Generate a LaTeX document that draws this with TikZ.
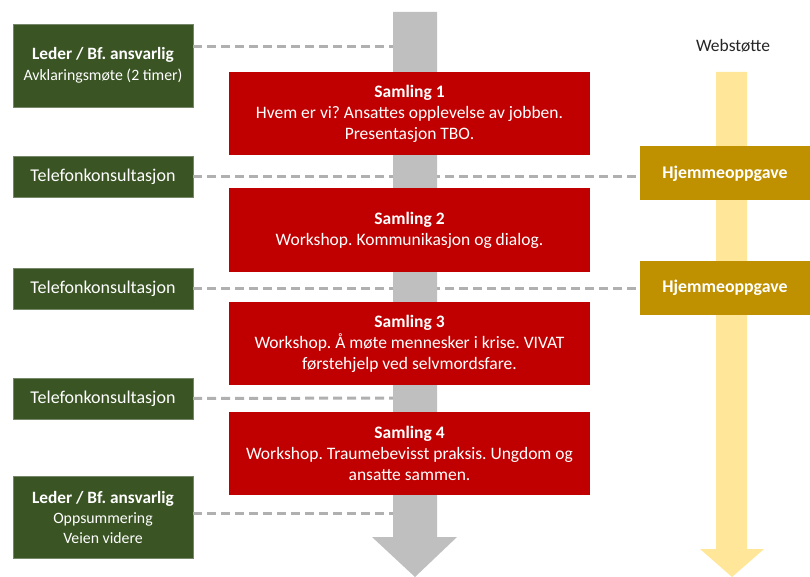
\documentclass[tikz,border=0pt]{standalone}
\usepackage{fontspec}
\setmainfont{Carlito}
\usepackage{tikz}
\usetikzlibrary{positioning}
\frenchspacing

\definecolor{leder}{HTML}{3A5424}
\definecolor{samling}{HTML}{C00000}
\definecolor{hjemme}{HTML}{BF9000}
\definecolor{web}{HTML}{FFE699}
\definecolor{tid}{HTML}{BFBFBF}
\definecolor{strek}{HTML}{B0B0B0}

\tikzset{
  lederbox/.style = {fill=leder, draw=leder!70!white, text=white, minimum width=180pt, align=center, inner sep=0pt},
  samlingbox/.style = {fill=samling, text=white, minimum width=361pt, minimum height=83pt, align=center, inner sep=0pt, font=\fontsize{17.5}{21}\selectfont},
  hjemmebox/.style = {fill=hjemme, text=white, minimum width=171pt, minimum height=54pt, inner sep=0pt, font=\fontsize{17.8}{21}\selectfont\bfseries},
  link/.style = {draw=strek, line width=3pt, dash pattern=on 9pt off 5pt}
}

\begin{document}
\begin{tikzpicture}[x=1pt, y=-1pt]
\useasboundingbox (0,0) rectangle (810,577);

% green side
\node[lederbox, minimum height=83pt, font=\fontsize{15.8}{21}\selectfont] (l_1) at (103,65.5)
  {{\fontsize{17.3}{21}\selectfont\bfseries Leder / Bf. ansvarlig}\\Avklaringsmøte (2 timer)};
\node[lederbox, minimum height=41pt, font=\fontsize{18}{21}\selectfont] (t_1) at (103,176.5) {Telefonkonsultasjon};
\node[lederbox, minimum height=41pt, font=\fontsize{18}{21}\selectfont] (t_2) at (103,288.5) {Telefonkonsultasjon};
\node[lederbox, minimum height=41pt, font=\fontsize{18}{21}\selectfont] (t_3) at (103,398.5) {Telefonkonsultasjon};
\node[lederbox, minimum height=82pt, font=\fontsize{15.8}{20}\selectfont] (l_2) at (103,517)
  {{\fontsize{17.3}{21}\selectfont\bfseries Leder / Bf. ansvarlig}\\Oppsummering\\Veien videre};

% yellow side
\node[hjemmebox] (h_1) at (725,173.5) {Hjemmeoppgave};
\node[hjemmebox] (h_2) at (725,288) {Hjemmeoppgave};
\node[font=\fontsize{17.5}{21}\selectfont, text=black!85] (web) at (733,46) {Webstøtte};

\coordinate (g_1) at (414,47);
\coordinate (g_3) at (414,398);
\coordinate (g_4) at (414,513);

\path[link] (l_1.east |- g_1) -- (g_1);
\path[link] (t_1.east) -- (t_1.east -| h_1.west);
\path[link] (t_2.east) -- (t_2.east -| h_2.west);
\path[link] (t_3.east) -- (g_3);
\path[link] (l_2.east |- g_4) -- (g_4);

% the two arrows
\fill[tid] (393,12) -- (437,12) -- (437,537) -- (457,537) -- (415,577) -- (372,537) -- (393,537) -- cycle;
\fill[web] (716,72) -- (747,72) -- (747,549) -- (764,549) -- (732,577) -- (700,549) -- (716,549) -- cycle;
\node[hjemmebox] at (h_1) {Hjemmeoppgave};
\node[hjemmebox] at (h_2) {Hjemmeoppgave};

% samlinger
\node[samlingbox] (s_1) at (409.5,114)
  {\textbf{Samling 1}\\Hvem er vi? Ansattes opplevelse av jobben.\\Presentasjon TBO.};
\node[samlingbox] (s_2) at (409.5,230)
  {\textbf{Samling 2}\\Workshop. Kommunikasjon og dialog.};
\node[samlingbox] (s_3) at (409.5,343.5)
  {\textbf{Samling 3}\\Workshop. Å møte mennesker i krise. VIVAT\\førstehjelp ved selvmordsfare.};
\node[samlingbox] (s_4) at (409.5,453)
  {\textbf{Samling 4}\\Workshop. Traumebevisst praksis. Ungdom og\\ansatte sammen.};
\end{tikzpicture}
\end{document}
